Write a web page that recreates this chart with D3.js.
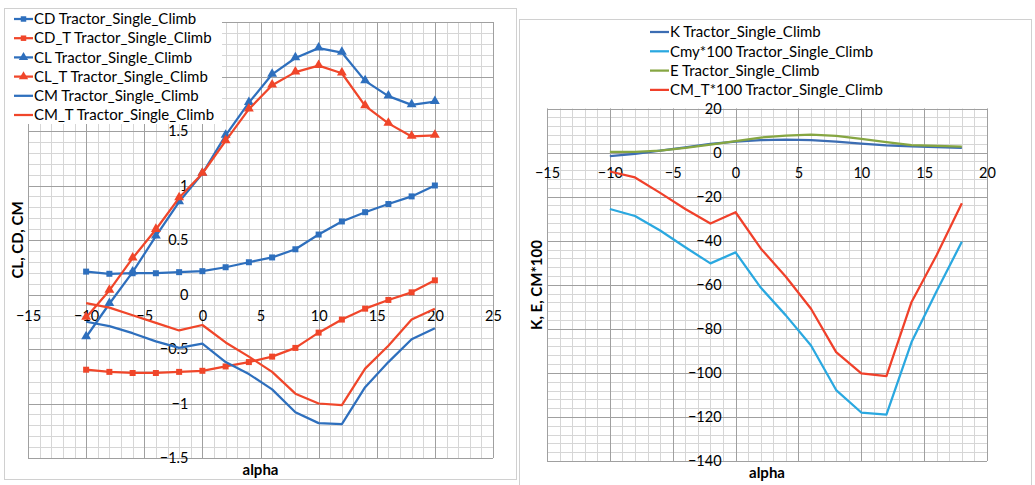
<!DOCTYPE html>
<html>
<head>
<meta charset="utf-8">
<script src="https://cdn.jsdelivr.net/npm/d3@7"></script>
<style>
body{margin:0;background:#fff;}
svg text{font-family:Lato,"Open Sans",sans-serif;fill:#000;}
.tick text{font-size:14.5px;}
.legend text{font-size:15px;}
.title{font-size:15px;font-weight:bold;}
.minor{stroke:#d6d6d6;stroke-width:1;}
.major{stroke:#a0a0a0;stroke-width:1;}
.frame{fill:#fff;stroke:#d0d0d0;stroke-width:1;}
</style>
</head>
<body>
<script>
//left chart data
var alphaLeft=[-10,-8,-6,-4,-2,0,2,4,6,8,10,12,14,16,18,20];
var cd=[0.21,0.19,0.195,0.195,0.205,0.214,0.25,0.296,0.34,0.415,0.55,0.67,0.755,0.83,0.90,1.0];
var cdT=[-0.69,-0.71,-0.72,-0.72,-0.71,-0.70,-0.66,-0.62,-0.57,-0.49,-0.35,-0.23,-0.13,-0.05,0.02,0.13];
var cl=[-0.39,-0.085,0.205,0.535,0.85,1.11,1.46,1.76,2.02,2.17,2.26,2.22,1.96,1.82,1.74,1.77];
var clT=[-0.21,0.037,0.333,0.596,0.887,1.11,1.41,1.70,1.92,2.04,2.10,2.03,1.73,1.57,1.45,1.46];
var cm=[-0.25,-0.29,-0.355,-0.43,-0.49,-0.45,-0.62,-0.73,-0.87,-1.08,-1.18,-1.19,-0.85,-0.62,-0.41,-0.31];
var cmT=[-0.08,-0.12,-0.19,-0.26,-0.33,-0.28,-0.44,-0.57,-0.71,-0.91,-1.0,-1.015,-0.68,-0.47,-0.23,-0.13];
var xTicksLeft=[-15,-10,-5,0,5,10,15,20,25];
var yTicksLeft=[-1.5,-1,-0.5,0,0.5,1,1.5]; //2 and 2.5 sit under the legend
var legendLeft=["CD Tractor_Single_Climb","CD_T Tractor_Single_Climb","CL Tractor_Single_Climb",
	"CL_T Tractor_Single_Climb","CM Tractor_Single_Climb","CM_T Tractor_Single_Climb"];

//right chart data
var alphaRight=[-10,-8,-6,-4,-2,0,2,4,6,8,10,12,14,16,18];
var kVals=[-1.6,-0.6,0.9,2.4,3.9,5.0,5.6,5.9,5.6,5.0,4.1,3.3,2.8,2.5,2.1];
var cmy100=[-25.6,-28.8,-35.4,-43.0,-50.3,-45.3,-61.3,-73.9,-87.6,-107.8,-118,-119,-86,-62.8,-40.5];
var eVals=[0.3,0.3,0.9,2.1,3.6,5.2,6.8,7.7,8.1,7.6,6.2,4.7,3.4,3.0,2.7];
var cmT100=[-8.6,-11.3,-18.3,-25.6,-32.2,-27.1,-43.5,-56.4,-70.9,-90.6,-100.2,-101.5,-67.8,-46.5,-23];
var xTicksRight=[-15,-10,-5,0,5,10,15,20];
var yTicksRight=[-140,-120,-100,-80,-60,-40,-20,0,20];
var legendRight=["K Tractor_Single_Climb","Cmy*100 Tractor_Single_Climb",
	"E Tractor_Single_Climb","CM_T*100 Tractor_Single_Climb"];

var blue="#2e6fbd", red="#f0462a";

var svg=d3.select("body")
	.append("svg")
	.attr("width",1035)
	.attr("height",485);

svg.append("rect").attr("width",1035).attr("height",485).attr("fill","#fff");

//chart frames
svg.append("rect").attr("class","frame").attr("x",4.5).attr("y",8.5).attr("width",512).attr("height",471);
svg.append("rect").attr("class","frame").attr("x",519.5).attr("y",19.5).attr("width",512).attr("height",480);

drawLeft();
drawRight();

//draw minor + major gridlines
function drawGrid(g,x,y,xMinorStep,yMinorStep,xMajor,yMajor){
	var xd=x.domain(), yd=y.domain();
	var xMinor=d3.range(xd[0],xd[1]+xMinorStep/2,xMinorStep);
	var yMinor=d3.range(yd[0],yd[1]+yMinorStep/2,yMinorStep);
	g.selectAll(".vminor").data(xMinor).enter().append("line")
		.attr("class","minor")
		.attr("x1",function(d){return Math.round(x(d))+0.5;})
		.attr("x2",function(d){return Math.round(x(d))+0.5;})
		.attr("y1",y.range()[0]).attr("y2",y.range()[1]);
	g.selectAll(".hminor").data(yMinor).enter().append("line")
		.attr("class","minor")
		.attr("y1",function(d){return Math.round(y(d))+0.5;})
		.attr("y2",function(d){return Math.round(y(d))+0.5;})
		.attr("x1",x.range()[0]).attr("x2",x.range()[1]);
	g.selectAll(".vmajor").data(xMajor).enter().append("line")
		.attr("class","major")
		.attr("x1",function(d){return Math.round(x(d))+0.5;})
		.attr("x2",function(d){return Math.round(x(d))+0.5;})
		.attr("y1",y.range()[0]).attr("y2",y.range()[1]);
	g.selectAll(".hmajor").data(yMajor).enter().append("line")
		.attr("class","major")
		.attr("y1",function(d){return Math.round(y(d))+0.5;})
		.attr("y2",function(d){return Math.round(y(d))+0.5;})
		.attr("x1",x.range()[0]).attr("x2",x.range()[1]);
}

//tick labels through d3 axes, crossing at 0
function drawAxes(g,x,y,xTicks,yTicks,xPad){
	g.append("g")
		.attr("transform","translate(0,"+y(0)+")")
		.call(d3.axisBottom(x).tickValues(xTicks).tickSize(0).tickPadding(xPad).tickFormat(d3.format("")))
		.call(function(a){a.select(".domain").remove();a.selectAll("text").attr("font-family",null).attr("font-size",null);});
	g.append("g")
		.attr("transform","translate("+x(0)+",0)")
		.call(d3.axisLeft(y).tickValues(yTicks).tickSize(0).tickPadding(14).tickFormat(d3.format("")))
		.call(function(a){a.select(".domain").remove();a.selectAll("text").attr("font-family",null).attr("font-size",null);});
}

function addLine(g,x,y,xs,ys,color){
	var line=d3.line()
		.x(function(d,i){return x(xs[i]);})
		.y(function(d){return y(d);});
	g.append("path")
		.datum(ys)
		.attr("fill","none")
		.attr("stroke",color)
		.attr("stroke-width",2.25)
		.attr("stroke-linejoin","round")
		.attr("d",line);
}

function addMarkers(g,x,y,xs,ys,color,shape){
	var sym=d3.symbol().type(shape=="square"?d3.symbolSquare:d3.symbolTriangle).size(shape=="square"?36:42);
	g.selectAll(null).data(ys).enter().append("path")
		.attr("d",sym)
		.attr("fill",color)
		.attr("transform",function(d,i){return "translate("+x(xs[i])+","+(y(d)+(shape=="square"?0:-0.5))+")";});
}

function drawLegend(g,names,colors,shapes,x0,y0,step){
	var leg=g.append("g").attr("class","legend");
	names.forEach(function(name,i){
		var yy=y0+i*step;
		leg.append("line").attr("x1",x0).attr("x2",x0+19).attr("y1",yy).attr("y2",yy)
			.attr("stroke",colors[i]).attr("stroke-width",2.25);
		if(shapes[i]){
			var sym=d3.symbol().type(shapes[i]=="square"?d3.symbolSquare:d3.symbolTriangle).size(shapes[i]=="square"?30:38);
			leg.append("path").attr("d",sym).attr("fill",colors[i])
				.attr("transform","translate("+(x0+9.5)+","+yy+")");
		}
		leg.append("text").attr("x",x0+20).attr("y",yy).attr("dy","0.35em").text(name);
	});
}

//left chart: CL, CD, CM
function drawLeft(){
	var x=d3.scaleLinear().domain([-15,25]).range([28,493]);
	var y=d3.scaleLinear().domain([-1.5,2.5]).range([458,22]);
	var g=svg.append("g");

	drawGrid(g,x,y,1,0.1,d3.range(-15,26,5),d3.range(-1.5,2.6,0.5));
	drawAxes(g,x,y,xTicksLeft,yTicksLeft,16);

	addLine(g,x,y,alphaLeft,cd,blue);      addMarkers(g,x,y,alphaLeft,cd,blue,"square");
	addLine(g,x,y,alphaLeft,cdT,red);      addMarkers(g,x,y,alphaLeft,cdT,red,"square");
	addLine(g,x,y,alphaLeft,cl,blue);      addMarkers(g,x,y,alphaLeft,cl,blue,"triangle");
	addLine(g,x,y,alphaLeft,clT,red);      addMarkers(g,x,y,alphaLeft,clT,red,"triangle");
	addLine(g,x,y,alphaLeft,cm,blue);
	addLine(g,x,y,alphaLeft,cmT,red);

	//legend box covers the top-left corner of the grid
	g.append("rect").attr("x",10).attr("y",10).attr("width",212).attr("height",114).attr("fill","#fff");
	drawLegend(g,legendLeft,[blue,red,blue,red,blue,red],
		["square","square","triangle","triangle",null,null],14,19,19.2);

	g.append("text").attr("class","title").attr("x",260.5).attr("y",470).attr("dy","0.35em")
		.attr("text-anchor","middle").text("alpha");
	g.append("text").attr("class","title").attr("transform","translate(18,240) rotate(-90)")
		.attr("dy","0.35em").attr("text-anchor","middle").text("CL, CD, CM");
}

//right chart: K, E, CM*100
function drawRight(){
	var x=d3.scaleLinear().domain([-15,20]).range([547,987]);
	var y=d3.scaleLinear().domain([-140,20]).range([461,108.5]);
	var g=svg.append("g");
	var colors=["#3c6db3","#2aa8e0","#86a642","#f0402a"];

	drawGrid(g,x,y,1,4,d3.range(-15,21,5),d3.range(-140,21,20));
	drawAxes(g,x,y,xTicksRight,yTicksRight,15);

	addLine(g,x,y,alphaRight,kVals,colors[0]);
	addLine(g,x,y,alphaRight,cmy100,colors[1]);
	addLine(g,x,y,alphaRight,eVals,colors[2]);
	addLine(g,x,y,alphaRight,cmT100,colors[3]);

	drawLegend(g,legendRight,colors,[null,null,null,null],650,32,19.3);

	g.append("text").attr("class","title").attr("x",767).attr("y",473).attr("dy","0.35em")
		.attr("text-anchor","middle").text("alpha");
	g.append("text").attr("class","title").attr("transform","translate(537,285) rotate(-90)")
		.attr("dy","0.35em").attr("text-anchor","middle").text("K, E, CM*100");
}
</script>
</body>
</html>
